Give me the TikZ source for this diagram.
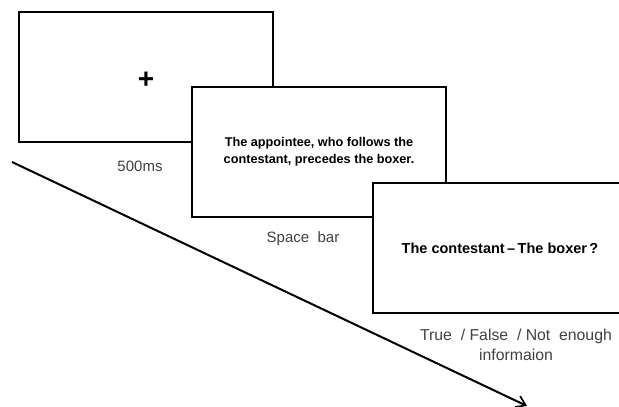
\documentclass[tikz,border=0pt]{standalone}
\usepackage{fontspec}
\setmainfont{Liberation Sans}
\usetikzlibrary{arrows.meta}
\begin{document}
\begin{tikzpicture}[x=1pt,y=-1pt,
  screen/.style={draw=black,fill=white,line width=2pt,minimum width=254pt,minimum height=130pt,inner sep=0pt},
  stimtext/.style={font=\bfseries\fontsize{12.7}{17}\selectfont,align=center,inner sep=0pt},
  lab/.style={text=black!75,font=\fontsize{15}{20}\selectfont,align=center,inner sep=0pt},
  timeline/.style={line width=2pt,-{Straight Barb[length=9pt,width=12pt,line width=1.6pt]}}]
\useasboundingbox (0,0) rectangle (619,407);
\coordinate (as) at (12,162);
\coordinate (ae) at (527,406);
\draw[timeline] (as) -- (ae);
\node[screen] (s1) at (146,77) {};
\node[font=\bfseries\fontsize{28}{28}\selectfont,inner sep=0pt] (plus) at (146,80) {+};
\node[lab] (l1) at (140,166) {500ms};
\node[screen] (s2) at (319,152) {};
\node[stimtext] (t2) at (319,152) {The appointee, who follows the\\contestant, precedes the boxer.};
\node[lab] (l2) at (303,239) {Space\ \ bar};
\node[screen] (s3) at (500,248) {};
\node[stimtext,font=\bfseries\fontsize{14.5}{17}\selectfont] (t3) at (500,248) {The contestant\,--\,The boxer\,?};
\node[lab,font=\fontsize{15.8}{20}\selectfont] (l3) at (516,345) {True\ \ /\ False\ \ /\ Not\ \ enough\\informaion};
\end{tikzpicture}
\end{document}
